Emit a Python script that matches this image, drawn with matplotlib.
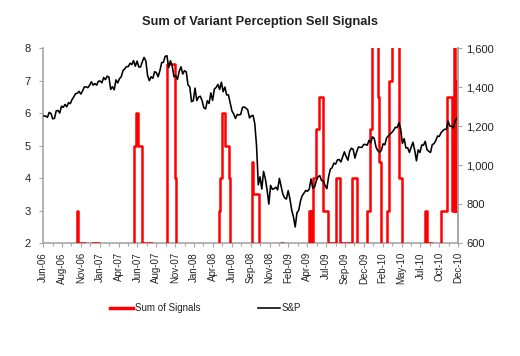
import matplotlib
matplotlib.use('Agg')
import matplotlib.pyplot as plt
import matplotlib.dates as mdates
import matplotlib.ticker as mticker
import numpy as np
import pandas as pd

plt.rcParams['font.family'] = ['Liberation Sans', 'DejaVu Sans']

# sum of sell signals, as step changes (value holds until the next date)
signal_dates = [
    '2006-06-06', '2006-10-17', '2006-10-21', '2006-11-20', '2006-12-18', '2007-01-13',
    '2007-06-01', '2007-06-11', '2007-06-17', '2007-07-03', '2007-08-14',
    '2007-10-11', '2007-11-12', '2007-11-18',
    '2008-05-06', '2008-05-10', '2008-05-19', '2008-05-31', '2008-06-15', '2008-06-20',
    '2008-09-14', '2008-09-19', '2008-10-12', '2009-01-09', '2009-01-17',
    '2009-04-30', '2009-05-04', '2009-05-08', '2009-05-12', '2009-05-16', '2009-05-27',
    '2009-06-09', '2009-06-24', '2009-07-15', '2009-08-16', '2009-08-31',
    '2009-10-17', '2009-11-09', '2009-12-17', '2009-12-29',
    '2010-01-06', '2010-01-28', '2010-02-03', '2010-02-09',
    '2010-03-07', '2010-03-16', '2010-03-28', '2010-04-22', '2010-05-04',
    '2010-08-05', '2010-08-15', '2010-08-31',
    '2010-10-08', '2010-10-31', '2010-11-19', '2010-11-30',
    '2010-12-04', '2010-12-06', '2010-12-08', '2010-12-10', '2010-12-12', '2010-12-15',
]
signal_values = [
    1, 3, 2, 1, 2, 1,
    5, 6, 5, 2, 1,
    7.5, 4, 1,
    3, 4, 6, 5, 4, 1,
    4.5, 3.5, 1, 2, 1,
    3, 1, 3, 1, 4, 5.5,
    6.5, 3, 2, 4, 2,
    4, 1, 3, 5.5,
    9, 6.5, 4.5, 1,
    3, 7, 9, 4, 1,
    3, 2, 1,
    3, 6.5, 3, 9,
    3, 7, 3, 7, 3, 7,
]

# S&P 500 weekly closes (Fridays) from 9 Jun 2006
sp_start = '2006-06-09'
sp_values = [
    1252, 1251, 1245, 1270, 1265, 1237, 1240, 1278, 1280, 1267, 1302, 1296,
    1311, 1299, 1320, 1315, 1336, 1350, 1366, 1368, 1378, 1364, 1380, 1401, 1401,
    1397, 1409, 1427, 1410, 1418,
    1410, 1430, 1431, 1422, 1449, 1438, 1456, 1451, 1388, 1402, 1386, 1437, 1421,
    1443, 1453, 1484, 1494, 1505, 1505, 1522, 1515, 1536, 1507, 1533, 1503, 1503,
    1530, 1552, 1534, 1459, 1433, 1453, 1445, 1479, 1474, 1453, 1484, 1525, 1527,
    1557, 1561, 1500, 1535, 1509, 1453, 1458, 1440, 1481, 1504, 1467, 1484, 1478,
    1411, 1401, 1325, 1330, 1395, 1331, 1349, 1353, 1331, 1294, 1288, 1330, 1316,
    1370, 1332, 1390, 1398, 1414, 1388, 1425, 1376, 1400, 1360, 1360, 1318, 1278,
    1262, 1239, 1260, 1257, 1260, 1296, 1298, 1292, 1283, 1242, 1252, 1255, 1213,
    1099, 899, 940, 877, 968, 930, 873, 800, 896, 876, 879, 887, 873,
    932, 890, 850, 832, 826, 869, 827, 770, 735, 683, 756, 768, 816,
    843, 857, 870, 866, 877, 929, 882, 887, 919, 940, 946, 921, 918,
    896, 879, 940, 979, 987, 1010, 1005, 1026, 1029, 1016, 1042, 1068, 1044,
    1025, 1071, 1087, 1080, 1036, 1069, 1093, 1091, 1091, 1106, 1106, 1102, 1127,
    1115, 1145, 1136, 1092, 1074, 1066, 1075, 1109, 1104, 1139, 1150, 1159, 1167,
    1179, 1194, 1192, 1217, 1187, 1111, 1136, 1088, 1089, 1065, 1092, 1117, 1076,
    1022, 1078, 1065, 1103, 1102, 1122, 1079, 1071, 1065, 1105, 1110, 1126, 1149,
    1147, 1166, 1176, 1184, 1183, 1225, 1200, 1200, 1190, 1225, 1240,
]

x_labels = ['Jun-06', 'Aug-06', 'Nov-06', 'Jan-07', 'Apr-07', 'Jun-07', 'Aug-07', 'Nov-07',
            'Jan-08', 'Apr-08', 'Jun-08', 'Sep-08', 'Nov-08', 'Feb-09', 'Apr-09', 'Jul-09',
            'Sep-09', 'Dec-09', 'Feb-10', 'May-10', 'Jul-10', 'Oct-10', 'Dec-10']

sig_x = pd.to_datetime(signal_dates)
sp_x = pd.date_range(sp_start, periods=len(sp_values), freq='W-FRI')

axis_col = '#a6a6a6'
text_col = '#222222'

fig = plt.figure(figsize=(5.2, 3.56), dpi=100)
ax = fig.add_axes([0.083, 0.317, 0.798, 0.548])
ax2 = ax.twinx()

l1, = ax.step(sig_x, signal_values, where='post', color='#ff0000', lw=1.8, zorder=3)
l2, = ax2.plot(sp_x, sp_values, color='black', lw=1.15)

x0 = mdates.date2num(pd.Timestamp('2006-06-06'))
x1 = mdates.date2num(pd.Timestamp('2010-12-15'))
ax.set_xlim(x0, x1)
ax.set_ylim(2, 8)
ax2.set_ylim(600, 1600)

ticks = np.linspace(x0, x1, len(x_labels))
ax.set_xticks(ticks)
ax.set_xticklabels(x_labels, rotation=90)
ax.set_xticks((ticks[:-1] + ticks[1:]) / 2, minor=True)
ax.set_yticks(range(2, 9))
ax2.set_yticks(range(600, 1601, 200))
ax2.yaxis.set_major_formatter(mticker.FuncFormatter(lambda v, p: f'{int(v):,}'))

for a in (ax, ax2):
    a.spines['top'].set_visible(False)
    for s in ('left', 'right', 'bottom'):
        a.spines[s].set_color(axis_col)
        a.spines[s].set_linewidth(1.2)
    a.tick_params(axis='both', which='both', color=axis_col, labelcolor=text_col,
                  labelsize=7, length=3, width=0.8)
# let the red line show on top of the bottom axis where the sum is exactly 2
ax2.spines['bottom'].set_visible(False)
ax2.spines['left'].set_visible(False)
ax.spines['bottom'].set_zorder(1)
ax.tick_params(axis='x', which='minor', length=2)
ax.tick_params(axis='y', pad=6, labelsize=8)
ax2.tick_params(axis='y', pad=3, labelsize=8)

fig.suptitle('Sum of Variant Perception Sell Signals', x=0.5, y=0.955,
             fontsize=9.3, fontweight='bold', color=text_col)

leg = fig.legend([l1, l2], ['Sum of Signals', 'S&P'], loc='center',
                 bbox_to_anchor=(0.396, 0.135), ncol=2, frameon=False, fontsize=7,
                 handlelength=2.3, handletextpad=0.2, columnspacing=5.9)
leg.get_lines()[0].set_linewidth(2.5)
for t in leg.get_texts():
    t.set_color(text_col)

fig.savefig('out.png', dpi=100)
